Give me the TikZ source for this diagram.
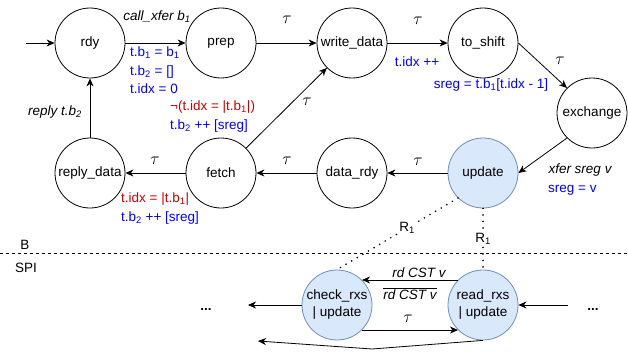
\documentclass[tikz,border=0pt]{standalone}
\usepackage{fontspec}
\setmainfont{Liberation Sans}
\usetikzlibrary{arrows.meta, positioning}
\definecolor{actblue}{RGB}{0, 0, 255}
\definecolor{guardred}{RGB}{204, 0, 0}
\definecolor{spifill}{HTML}{DAE8FC}
\definecolor{spiline}{HTML}{6C8EBF}
\newcommand{\lo}[1]{\textsubscript{#1}}
\newcommand{\tauL}{{\fontsize{18}{18}\selectfont$\tau$}}

\tikzset{
    state/.style={draw, circle, line width=0.8pt, minimum size=70pt, inner sep=0pt, align=center,
        font=\fontsize{13.5}{17}\selectfont},
    spistate/.style={state, draw=spiline, fill=spifill},
    lbl/.style={inner sep=1pt, font=\fontsize{13.5}{18.5}\selectfont},
    act/.style={lbl, text=actblue, align=left},
    guard/.style={lbl, text=guardred, align=left},
    trans/.style={->, line width=0.8pt},
    link/.style={line width=1.8pt, line cap=round, dash pattern=on 0pt off 6.5pt},
    >={Stealth[length=8pt, width=7pt, inset=2.5pt]}
}

\begin{document}
\begin{tikzpicture}[x=1pt, y=-1pt]
    \useasboundingbox (0,0) rectangle (628,353);

    % B side
    \node[state] (rdy) at (90,43) {rdy};
    \node[state] (prep) at (221,43) {prep};
    \node[state] (writedata) at (352,43) {write\_data};
    \node[state] (toshift) at (483,43) {to\_shift};
    \node[state] (exchange) at (592,113) {exchange};
    \node[state] (replydata) at (90,173) {reply\_data};
    \node[state] (fetch) at (221,173) {fetch};
    \node[state] (datardy) at (352,173) {data\_rdy};
    \node[spistate] (update) at (483,173) {update};

    % SPI side
    \node[spistate] (checkrxs) at (337,305) {check\_rxs\\| update};
    \node[spistate] (readrxs) at (483,305) {read\_rxs\\| update};

    \coordinate (init) at (26,43);
    \coordinate (sepL) at (0,253);
    \coordinate (sepR) at (628,253);
    \coordinate (leftout) at (248,305);
    \coordinate (rightin) at (568,305);
    \coordinate (loopmid) at (372,349);
    \coordinate (loopend) at (258,341);

    \draw[dashed, dash pattern=on 3pt off 3pt] (sepL) -- (sepR);
    \node[lbl] (sideB) at (25,245) {B};
    \node[lbl] (sideSPI) at (26,268) {SPI};

    % transitions
    \draw[trans] (init) -- (rdy);
    \draw[trans] (rdy) -- (prep);
    \draw[trans] (prep) -- (writedata);
    \draw[trans] (writedata) -- (toshift);
    \draw[trans] (toshift.east) -- (exchange.north west);
    \draw[trans] (exchange.south west) -- (update.east);
    \draw[trans] (update) -- (datardy);
    \draw[trans] (datardy) -- (fetch);
    \draw[trans] (fetch) -- (replydata);
    \draw[trans] (fetch) -- (writedata);
    \draw[trans] (replydata) -- (rdy);

    \draw[trans] (readrxs.north west) -- (checkrxs.north east);
    \draw[trans] (checkrxs.south east) -- (readrxs.south west);
    \draw[trans] (checkrxs) -- (leftout);
    \draw[trans] (rightin) -- (readrxs);
    \draw[trans] (readrxs.south) -- (loopmid) -- (loopend);

    \draw[link] (update.south west) -- (checkrxs.north)
        node[pos=0.42, lbl, fill=white] (rA) {R\lo{1}};
    \draw[link] (update.south) -- (readrxs.north)
        node[midway, lbl, fill=white] (rB) {R\lo{1}};

    % labels
    \node[lbl, font=\fontsize{13.5}{18.5}\itshape] (callxfer) at (157,17) {call\_xfer b\lo{1}};
    \node[act, anchor=west] (initact) at (129,70.5) {t.b\lo{1} = b\lo{1}\\t.b\lo{2} = []\\t.idx = 0};
    \node[lbl] (tauA) at (287,20) {\tauL};
    \node[lbl] (tauB) at (418,21) {\tauL};
    \node[act] (incr) at (417,62) {t.idx ++};
    \node[lbl] (tauC) at (560,61) {\tauL};
    \node[act] (shift) at (491,85) {sreg = t.b\lo{1}[t.idx - 1]};
    \node[lbl, font=\fontsize{13.5}{18.5}\itshape] (xfer) at (580,170) {xfer sreg v};
    \node[act, anchor=west] (setreg) at (547,190) {sreg = v};
    \node[lbl] (tauD) at (418,162) {\tauL};
    \node[lbl] (tauE) at (287,161) {\tauL};
    \node[lbl] (tauF) at (155,161) {\tauL};
    \node[lbl, anchor=west, align=left] (doneguard) at (120,208.5)
        {\textcolor{guardred}{t.idx = |t.b\lo{1}|}\\\textcolor{actblue}{t.b\lo{2} ++ [sreg]}};
    \node[lbl] (tauG) at (307,102) {\tauL};
    \node[lbl, anchor=west, align=left] (loopguard) at (169,116.5)
        {\textcolor{guardred}{¬(t.idx = |t.b\lo{1}|)}\\\textcolor{actblue}{t.b\lo{2} ++ [sreg]}};
    \node[lbl, font=\fontsize{13.5}{18.5}\itshape] (reply) at (55,112) {reply t.b\lo{2}};

    \node[lbl, font=\fontsize{13.5}{18.5}\itshape] (rdcst) at (419,273) {rd CST v};
    \node[lbl] (rdcstbar) at (410,294) {$\overline{\mbox{\fontsize{13.5}{18.5}\itshape rd CST v}}$};
    \node[lbl] (tauH) at (408,319) {\tauL};
    \node[lbl, font=\fontsize{13.5}{18.5}\bfseries] (dotsL) at (206,309) {...};
    \node[lbl, font=\fontsize{13.5}{18.5}\bfseries] (dotsR) at (593,309) {...};
\end{tikzpicture}
\end{document}
